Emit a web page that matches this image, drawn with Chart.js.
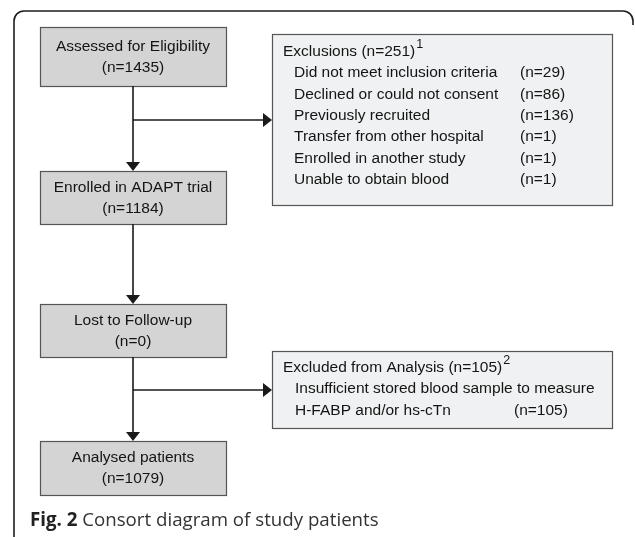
<!DOCTYPE html>
<html>
<head>
    <meta charset="utf-8" />
    <title>Consort diagram</title>
    <style>
        body {
            margin: 0;
            background: #fff;
        }
    </style>
</head>
<body>
    <canvas id="chartCanvas" width="635" height="537"></canvas>

<script src="https://cdn.jsdelivr.net/npm/chart.js@4.4.1/dist/chart.umd.min.js"></script>
<script>
    // flow stages (main column) and their counts
    var stageLabels = ["Assessed for Eligibility", "Enrolled in ADAPT trial", "Lost to Follow-up", "Analysed patients"];
    var stageCounts = [1435, 1184, 0, 1079];

    // exclusions after assessment
    var exclTitle = "Exclusions";
    var exclTotal = 251;
    var exclReasons = ["Did not meet inclusion criteria", "Declined or could not consent", "Previously recruited",
        "Transfer from other hospital", "Enrolled in another study", "Unable to obtain blood"];
    var exclCounts = [29, 86, 136, 1, 1, 1];

    // excluded from analysis
    var anaTitle = "Excluded from Analysis";
    var anaTotal = 105;
    var anaReasonLines = ["Insufficient stored blood sample to measure", "H-FABP and/or hs-cTn"];
    var anaCounts = [105];

    var captionBold = "Fig. 2";
    var captionText = " Consort diagram of study patients";

    // ---- layout (in axis units, y grows downward) ----
    var mainBoxes = [[40, 27, 226, 86], [40, 171, 226, 224], [40, 304, 226, 357], [40, 441, 226, 495]];
    var sideBoxes = [[272, 34, 612, 205], [272, 351, 612, 428]];
    var branchY = [120, 390];
    var spineX = 133;
    var ahW = 14, ahH = 9; // arrowhead size

    var FONT = "Liberation Sans, Arial, sans-serif";
    var FS = '15.5px ';

    // arrowhead image (points down)
    var head = document.createElement('canvas');
    head.width = ahW; head.height = ahH;
    var hc = head.getContext('2d');
    hc.fillStyle = '#1a1a1a';
    hc.beginPath();
    hc.moveTo(0, 0); hc.lineTo(ahW, 0); hc.lineTo(ahW / 2, ahH); hc.closePath();
    hc.fill();

    // connectors as line datasets
    var datasets = [];
    function seg(x1, y1, x2, y2) {
        datasets.push({
            type: 'line', data: [{ x: x1, y: y1 }, { x: x2, y: y2 }],
            borderColor: '#1a1a1a', borderWidth: 1.6, pointRadius: 0, fill: false, showLine: true
        });
    }
    for (var i = 0; i < mainBoxes.length - 1; i++) {
        seg(spineX, mainBoxes[i][3], spineX, mainBoxes[i + 1][1] - ahH + 1);
    }
    seg(spineX, branchY[0], sideBoxes[0][0] - ahH + 1, branchY[0]);
    seg(spineX, branchY[1], sideBoxes[1][0] - ahH + 1, branchY[1]);

    // arrowheads
    var downHeads = [];
    for (var i = 1; i < mainBoxes.length; i++) downHeads.push({ x: spineX, y: mainBoxes[i][1] - ahH / 2 });
    var rightHeads = sideBoxes.map(function (b, k) { return { x: b[0] - ahH / 2, y: branchY[k] }; });
    datasets.push({
        type: 'scatter', data: downHeads, pointStyle: head, rotation: 0, pointRadius: ahW / 2
    });
    datasets.push({
        type: 'scatter', data: rightHeads, pointStyle: head, rotation: -90, pointRadius: ahW / 2
    });

    var boxPlugin = {
        id: 'boxes',
        beforeDatasetsDraw: function (chart) {
            var ctx = chart.ctx, xs = chart.scales.x, ys = chart.scales.y;
            function px(v) { return xs.getPixelForValue(v); }
            function py(v) { return ys.getPixelForValue(v); }
            function rect(b, fill) {
                var x = Math.round(px(b[0])) + 0.5, y = Math.round(py(b[1])) + 0.5;
                var w = Math.round(px(b[2]) - px(b[0])), h = Math.round(py(b[3]) - py(b[1]));
                ctx.fillStyle = fill;
                ctx.fillRect(x, y, w, h);
                ctx.strokeStyle = '#555';
                ctx.lineWidth = 1.2;
                ctx.strokeRect(x, y, w, h);
            }
            ctx.save();

            // outer frame
            ctx.strokeStyle = '#1e1e1e';
            ctx.lineWidth = 1.6;
            var fl = px(14), ft = py(11), fr = px(633), r = 10;
            ctx.beginPath();
            ctx.moveTo(fl, py(540));
            ctx.lineTo(fl, ft + r);
            ctx.arcTo(fl, ft, fl + r, ft, r);
            ctx.lineTo(fr - r, ft);
            ctx.arcTo(fr, ft, fr, ft + r, r);
            ctx.lineTo(fr, ft + r + 4);
            ctx.stroke();

            // main boxes
            ctx.textBaseline = 'middle';
            mainBoxes.forEach(function (b, i) {
                rect(b, '#d4d4d4');
                var cx = px((b[0] + b[2]) / 2), cy = py((b[1] + b[3]) / 2);
                ctx.fillStyle = '#141414';
                ctx.font = FS + FONT;
                ctx.textAlign = 'center';
                ctx.fillText(stageLabels[i], cx, cy - 10);
                ctx.fillText('(n=' + stageCounts[i] + ')', cx, cy + 11);
            });

            // side boxes
            sideBoxes.forEach(function (b) { rect(b, '#f0f1f2'); });
            ctx.textAlign = 'left';
            ctx.fillStyle = '#141414';

            function titleWithSup(t, x, y, sup) {
                ctx.font = FS + FONT;
                ctx.fillText(t, x, y);
                var w = ctx.measureText(t).width;
                ctx.font = '12.5px ' + FONT;
                ctx.fillText(sup, x + w + 1, y - 7);
            }

            var b = sideBoxes[0];
            titleWithSup(exclTitle + ' (n=' + exclTotal + ')', px(b[0] + 11), py(52), '1');
            ctx.font = FS + FONT;
            exclReasons.forEach(function (t, i) {
                var y = py(73 + i * 21.4);
                ctx.fillText(t, px(b[0] + 22), y);
                ctx.fillText('(n=' + exclCounts[i] + ')', px(520), y);
            });

            b = sideBoxes[1];
            titleWithSup(anaTitle + ' (n=' + anaTotal + ')', px(b[0] + 11), py(368), '2');
            ctx.font = FS + FONT;
            ctx.fillText(anaReasonLines[0], px(b[0] + 23), py(389));
            ctx.fillText(anaReasonLines[1], px(b[0] + 23), py(411));
            ctx.fillText('(n=' + anaCounts[0] + ')', px(514), py(411));

            // caption
            ctx.font = 'bold 18.7px "Open Sans", sans-serif';
            ctx.fillStyle = '#222';
            ctx.fillText(captionBold, px(30), py(521));
            var cw = ctx.measureText(captionBold).width;
            ctx.font = '18.7px "Open Sans", sans-serif';
            ctx.fillStyle = '#333';
            ctx.fillText(captionText, px(30) + cw, py(521));

            ctx.restore();
        }
    };

    var chart1 = new Chart(document.getElementById('chartCanvas').getContext('2d'), {
        type: 'scatter',
        data: { datasets: datasets },
        options: {
            responsive: false,
            animation: false,
            devicePixelRatio: 1,
            layout: { padding: 0, autoPadding: false },
            plugins: { legend: { display: false }, tooltip: { enabled: false } },
            scales: {
                x: { type: 'linear', min: 0, max: 635, display: false },
                y: { type: 'linear', min: 0, max: 537, reverse: true, display: false }
            }
        },
        plugins: [boxPlugin]
    });
</script>
</body>
</html>
